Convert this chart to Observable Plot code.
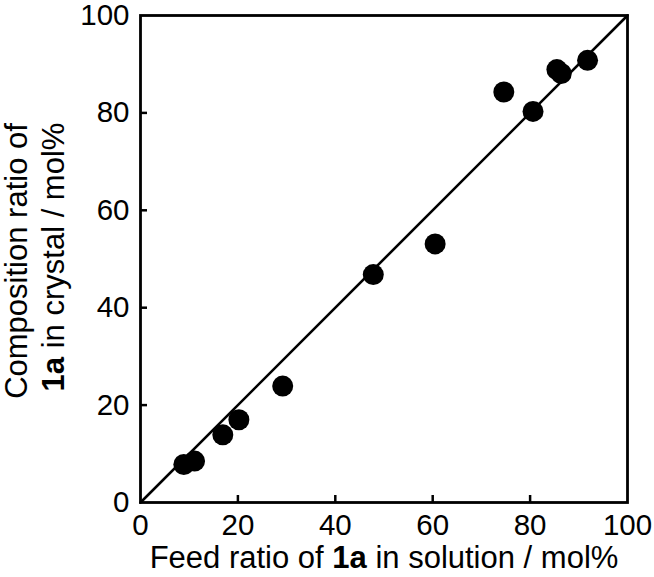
<!DOCTYPE html>
<html>
<head>
<meta charset="utf-8">
<script src="https://cdn.jsdelivr.net/npm/d3@7"></script>
<script src="https://cdn.jsdelivr.net/npm/@observablehq/plot@0.6"></script>
<style>
  html, body { margin: 0; padding: 0; background: #fff; }
  #chart svg { display: block; }
</style>
</head>
<body>
<div id="chart"></div>
<script>
// Feed ratio of 1a in solution (mol%)
const feed = [8.9, 11.1, 16.9, 20.2, 29.2, 47.8, 60.5, 74.6, 80.6, 85.5, 86.4, 91.8];
// Composition ratio of 1a in crystal (mol%)
const crystal = [7.8, 8.5, 13.9, 17.0, 23.9, 46.8, 53.1, 84.3, 80.3, 88.9, 88.1, 90.8];
const xTicks = [0, 20, 40, 60, 80, 100];
const yTicks = [0, 20, 40, 60, 80, 100];
const innerTicks = [20, 40, 60, 80];
const diagonal = [0, 100];

const points = feed.map((f, i) => ({feed: f, crystal: crystal[i]}));

const W = 654, H = 577;
const mL = 140, mR = 27, mT = 15, mB = 75;
const innerH = H - mT - mB, innerW = W - mL - mR;
const tickLen = 7;
const font = "'Liberation Sans', Arial, Helvetica, sans-serif";
const fs = 29.5;   // tick labels
const tfs = 31;    // axis titles

const chart = Plot.plot({
  width: W,
  height: H,
  marginLeft: mL,
  marginRight: mR,
  marginTop: mT,
  marginBottom: mB,
  style: {fontFamily: font, fontSize: fs + "px", color: "#000", background: "#fff"},
  x: {domain: [0, 100]},
  y: {domain: [0, 100]},
  marks: [
    Plot.axisX(xTicks, {tickSize: 0, tickPadding: 12, label: null, fontSize: fs}),
    Plot.axisY(yTicks, {tickSize: 0, tickPadding: 11, label: null, fontSize: fs}),
    Plot.ruleX(innerTicks, {x: d => d, insetTop: innerH - tickLen, stroke: "#000", strokeWidth: 2.5}),
    Plot.ruleY(innerTicks, {y: d => d, insetRight: innerW - tickLen, stroke: "#000", strokeWidth: 2.5}),
    Plot.line(diagonal, {x: d => d, y: d => d, stroke: "#000", strokeWidth: 2.6}),
    Plot.dot(points, {x: "feed", y: "crystal", r: 10.5, fill: "#000", stroke: "none"}),
    Plot.frame({stroke: "#000", strokeWidth: 2.8})
  ]
});

const svg = d3.select(chart);
// x axis title with bold "1a"
const xt = svg.append("text")
  .attr("x", 384)
  .attr("y", 568)
  .attr("text-anchor", "middle")
  .attr("font-family", font)
  .attr("font-size", tfs)
  .attr("fill", "#000");
xt.append("tspan").text("Feed ratio of ");
xt.append("tspan").attr("font-weight", "bold").text("1a");
xt.append("tspan").text(" in solution / mol%");

// y axis title (two lines)
svg.append("text")
  .attr("transform", `translate(27,261) rotate(-90)`)
  .attr("text-anchor", "middle")
  .attr("font-family", font)
  .attr("font-size", tfs)
  .attr("fill", "#000")
  .text("Composition ratio of");
const yt = svg.append("text")
  .attr("transform", `translate(64,257) rotate(-90)`)
  .attr("text-anchor", "middle")
  .attr("font-family", font)
  .attr("font-size", tfs)
  .attr("fill", "#000");
yt.append("tspan").attr("font-weight", "bold").text("1a");
yt.append("tspan").text(" in crystal / mol%");

document.getElementById("chart").appendChild(chart);
</script>
</body>
</html>
